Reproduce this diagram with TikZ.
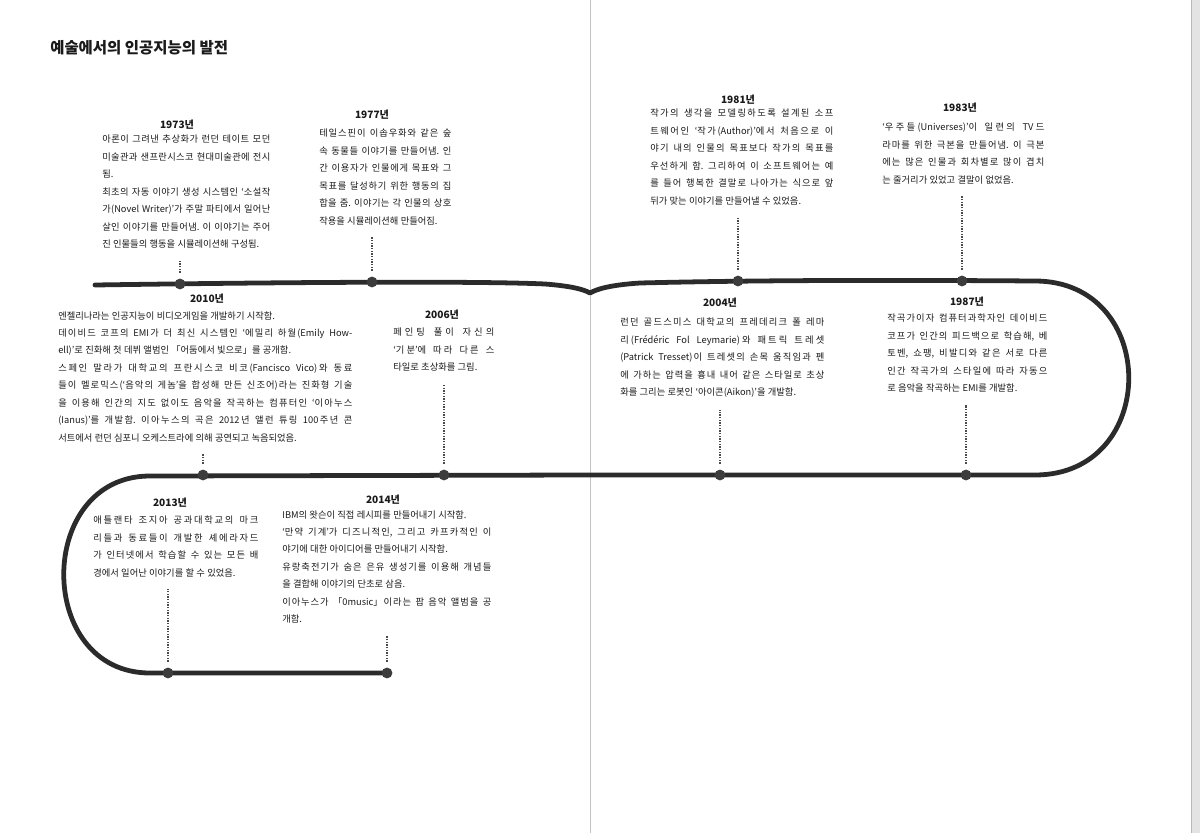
\documentclass[tikz,border=0pt]{standalone}
\usepackage{fontspec}
\usepackage{tikz}
\usepackage{xcolor}
\setmainfont{Noto Sans CJK KR}
\XeTeXlinebreaklocale "ko"
\XeTeXlinebreakskip=0pt plus 1pt minus 0.4pt
\tolerance=9999
\hbadness=10000
\frenchspacing
\newcommand\bodyfont{\fontsize{6.6}{12.4}\selectfont
  \spaceskip=1.65pt plus 2.2pt minus 0.4pt\relax}

\definecolor{ink}{HTML}{1A1A1A}
\definecolor{linec}{HTML}{2B2B2B}
\definecolor{dotc}{HTML}{3C3C3C}
\definecolor{tickc}{HTML}{4A4A4A}
\definecolor{foldc}{HTML}{C4C4C4}

\begin{document}
\begin{tikzpicture}[x=0.025cm, y=-0.025cm,
  tline/.style={line width=3.4pt, draw=linec, line cap=round, line join=round},
  evdot/.style={circle, fill=dotc, inner sep=0pt, minimum size=0.27cm},
  tick/.style={draw=tickc, densely dotted, line width=0.9pt, shorten >=0.3cm, shorten <=0.14cm},
  year/.style={font=\fontsize{7.2}{9}\selectfont\bfseries, text=ink, inner sep=0pt},
  body/.style={anchor=north west, inner sep=0pt, align=justify, text=ink, font=\bodyfont},
  headline/.style={anchor=west, inner sep=0pt, text=ink,
    font=\fontsize{11}{13}\selectfont\bfseries}]

  \useasboundingbox[fill=white] (0,0) rectangle (1200,833);
  \draw[foldc, line width=0.6pt] (590,0) -- (590,833);
  \fill[gray!22] (1191,0) rectangle (1200,833);
  \draw[gray!55, line width=0.6pt] (1191,0) -- (1191,833);

  \node[headline] (title) at (50,48) {예술에서의 인공지능의 발전};

  \draw[tline] (95,285) .. controls (300,282) and (480,281) .. (545,284)
    .. controls (570,286) and (583,289) .. (590,293)
    .. controls (597,289) and (610,285) .. (640,283)
    .. controls (760,280) and (900,280) .. (1035,281)
    .. controls (1160,281) and (1160,475) .. (1035,475)
    -- (590,475) -- (150,476)
    .. controls (35,476) and (35,673) .. (150,673) -- (387,673);

  \node[year] (y1973) at (177,125) {1973년};
  \node[body, text width=4.2cm] (t1973) at (102,135)
    {아론이 그려낸 추상화가 런던 테이트 모던\linebreak
     미술관과 샌프란시스코 현대미술관에 전시\linebreak
     됨.\par
     최초의 자동 이야기 생성 시스템인 ‘소설작\linebreak
     가(Novel Writer)’가 주말 파티에서 일어난\linebreak
     살인 이야기를 만들어냄. 이 이야기는 주어\linebreak
     진 인물들의 행동을 시뮬레이션해 구성됨.};

  \node[year] (y1977) at (372,115) {1977년};
  \node[body, text width=3.3cm] (t1977) at (319,129)
    {테일스핀이 이솝우화와 같은 숲\linebreak
     속 동물들 이야기를 만들어냄. 인\linebreak
     간 이용자가 인물에게 목표와 그\linebreak
     목표를 달성하기 위한 행동의 집\linebreak
     합을 줌. 이야기는 각 인물의 상호\linebreak
     작용을 시뮬레이션해 만들어짐.};

  \node[year] (y1981) at (738,100) {1981년};
  \node[body, text width=4.575cm] (t1981) at (650,109)
    {작가의 생각을 모델링하도록 설계된 소프\linebreak
     트웨어인 ‘작가(Author)’에서 처음으로 이\linebreak
     야기 내의 인물의 목표보다 작가의 목표를\linebreak
     우선하게 함. 그리하여 이 소프트웨어는 예\linebreak
     를 들어 행복한 결말로 나아가는 식으로 앞\linebreak
     뒤가 맞는 이야기를 만들어낼 수 있었음.};

  \node[year] (y1983) at (960,108) {1983년};
  \node[body, text width=4.05cm] (t1983) at (882,123)
    {‘우주들(Universes)’이 일련의 TV드\linebreak
     라마를 위한 극본을 만들어냄. 이 극본\linebreak
     에는 많은 인물과 회차별로 많이 겹치\linebreak
     는 줄거리가 있었고 결말이 없었음.};

  \node[year] (y2010) at (207,299) {2010년};
  \node[body, text width=7.35cm] (t2010) at (58,311)
    {엔젤리나라는 인공지능이 비디오게임을 개발하기 시작함.\par
     데이비드 코프의 EMI가 더 최신 시스템인 ‘에밀리 하월(Emily How-\linebreak
     ell)’로 진화해 첫 데뷔 앨범인 「어둠에서 빛으로」를 공개함.\par
     스페인 말라가 대학교의 프란시스코 비코(Fancisco Vico)와 동료\linebreak
     들이 멜로믹스(‘음악의 게놈’을 합성해 만든 신조어)라는 진화형 기술\linebreak
     을 이용해 인간의 지도 없이도 음악을 작곡하는 컴퓨터인 ‘이아누스\linebreak
     (Ianus)’를 개발함. 이아누스의 곡은 2012년 앨런 튜링 100주년 콘\linebreak
     서트에서 런던 심포니 오케스트라에 의해 공연되고 녹음되었음.};

  \node[year] (y2006) at (442,315) {2006년};
  \node[body, text width=2.525cm] (t2006) at (393,328)
    {페인팅 풀이 자신의\linebreak
     ‘기분’에 따라 다른 스\linebreak
     타일로 초상화를 그림.};

  \node[year] (y2004) at (720,303) {2004년};
  \node[body, text width=5.1cm] (t2004) at (620,318)
    {런던 골드스미스 대학교의 프레데리크 폴 레마\linebreak
     리(Frédéric Fol Leymarie)와 패트릭 트레셋\linebreak
     (Patrick Tresset)이 트레셋의 손목 움직임과 펜\linebreak
     에 가하는 압력을 흉내 내어 같은 스타일로 초상\linebreak
     화를 그리는 로봇인 ‘아이콘(Aikon)’을 개발함.};

  \node[year] (y1987) at (967,302) {1987년};
  \node[body, text width=4.0cm] (t1987) at (887,314)
    {작곡가이자 컴퓨터과학자인 데이비드\linebreak
     코프가 인간의 피드백으로 학습해, 베\linebreak
     토벤, 쇼팽, 비발디와 같은 서로 다른\linebreak
     인간 작곡가의 스타일에 따라 자동으\linebreak
     로 음악을 작곡하는 EMI를 개발함.};

  \node[year] (y2013) at (170,503) {2013년};
  \node[body, text width=4.125cm] (t2013) at (93,516)
    {애틀랜타 조지아 공과대학교의 마크\linebreak
     리들과 동료들이 개발한 셰에라자드\linebreak
     가 인터넷에서 학습할 수 있는 모든 배\linebreak
     경에서 일어난 이야기를 할 수 있었음.};

  \node[year] (y2014) at (383,500) {2014년};
  \node[body, text width=5.225cm] (t2014) at (282,510)
    {IBM의 왓슨이 직접 레시피를 만들어내기 시작함.\par
     ‘만약 기계’가 디즈니적인, 그리고 카프카적인 이\linebreak
     야기에 대한 아이디어를 만들어내기 시작함.\par
     유랑축전기가 숨은 은유 생성기를 이용해 개념들\linebreak
     을 결합해 이야기의 단초로 삼음.\par
     이아누스가 「0music」이라는 팝 음악 앨범을 공\linebreak
     개함.};

  \node[evdot] (d1973) at (180,284) {};
  \node[evdot] (d1977) at (372,282) {};
  \node[evdot] (d1981) at (738,281) {};
  \node[evdot] (d1983) at (962,281) {};
  \node[evdot] (d2010) at (203,475) {};
  \node[evdot] (d2006) at (444,475) {};
  \node[evdot] (d2004) at (720,475) {};
  \node[evdot] (d1987) at (966,475) {};
  \node[evdot] (d2013) at (168,673) {};
  \node[evdot] (d2014) at (387,673) {};

  \draw[tick] (d1973) -- (d1973 |- t1973.south);
  \draw[tick] (d1977) -- (d1977 |- t1977.south);
  \draw[tick] (d1981) -- (d1981 |- t1981.south);
  \draw[tick] (d1983) -- (d1983 |- t1983.south);
  \draw[tick] (d2010) -- (d2010 |- t2010.south);
  \draw[tick] (d2006) -- (d2006 |- t2006.south);
  \draw[tick] (d2004) -- (d2004 |- t2004.south);
  \draw[tick] (d1987) -- (d1987 |- t1987.south);
  \draw[tick] (d2013) -- (d2013 |- t2013.south);
  \draw[tick] (d2014) -- (d2014 |- t2014.south);
\end{tikzpicture}
\end{document}
